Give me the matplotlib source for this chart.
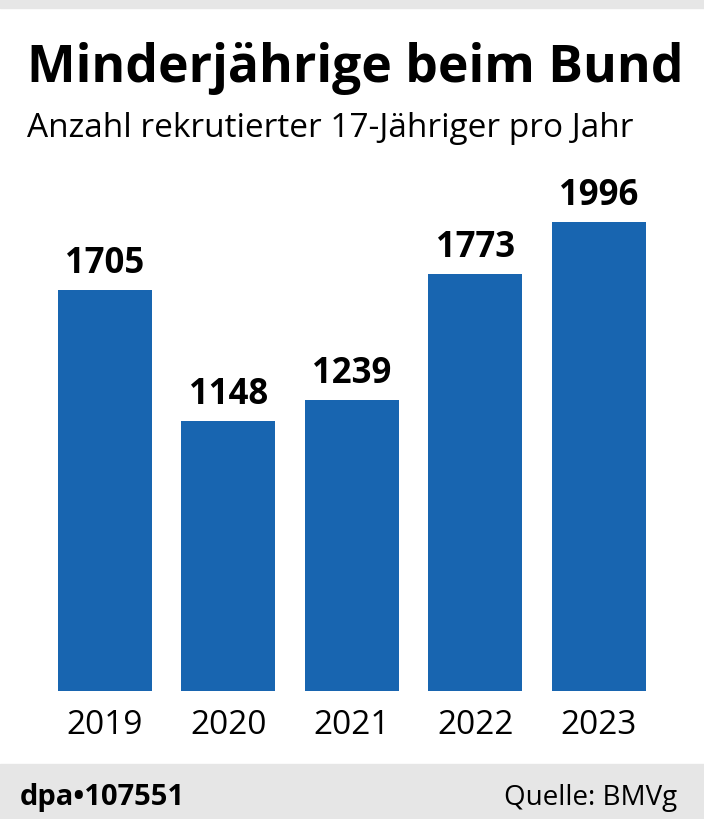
import matplotlib.pyplot as plt
from matplotlib.patches import Rectangle

# data
years = ["2019", "2020", "2021", "2022", "2023"]
recruits = [1705, 1148, 1239, 1773, 1996]

title = "Minderjährige beim Bund"
subtitle = "Anzahl rekrutierter 17-Jähriger pro Jahr"
source = "Quelle: BMVg"
dpa_id = "dpa\u2022107551"

W, H = 704, 820
bar_color = "#1865b0"
band_color = "#e6e6e6"

plt.rcParams["font.family"] = ["Open Sans", "DejaVu Sans"]

fig = plt.figure(figsize=(W / 100, H / 100), dpi=100)


def fy(px):
    # pixel from top -> figure fraction
    return 1 - px / H


# grey bands top and bottom
fig.patches.append(Rectangle((0, fy(9)), 1, 9 / H, transform=fig.transFigure,
                             color=band_color, zorder=0))
fig.patches.append(Rectangle((0, 0), 1, (H - 765) / H, transform=fig.transFigure,
                             color=band_color, zorder=0))

fig.text(27 / W, fy(82), title, fontsize=37.2, fontweight="bold", va="baseline", ha="left")
fig.text(27 / W, fy(137), subtitle, fontsize=24, va="baseline", ha="left")

fig.text(20 / W, fy(805), dpa_id, fontsize=21, fontweight="bold", va="baseline", ha="left")
fig.text(677 / W, fy(805), source, fontsize=20, va="baseline", ha="right")

# axes: baseline at y=692 px, scale 469 px per 1996
spacing = 123.4
left_px, right_px = 40, 664
top_px, base_px = 160, 692
ax = fig.add_axes([left_px / W, (H - base_px) / H,
                   (right_px - left_px) / W, (base_px - top_px) / H])
x = list(range(len(years)))
ax.bar(x, recruits, width=94 / spacing, color=bar_color)
ax.set_xlim((left_px - 105) / spacing, (right_px - 105) / spacing)
ax.set_ylim(0, (base_px - top_px) * 1996 / 469)

for xi, v in zip(x, recruits):
    ax.annotate(str(v), (xi, v), xytext=(0, 13), textcoords="offset points",
                ha="center", va="baseline", fontsize=25, fontweight="bold")

ax.set_xticks(x)
ax.set_xticklabels(years, fontsize=24)
ax.tick_params(axis="x", length=0, pad=12)
ax.set_yticks([])
for s in ax.spines.values():
    s.set_visible(False)
ax.patch.set_visible(False)

fig.savefig("out.png", dpi=100)
